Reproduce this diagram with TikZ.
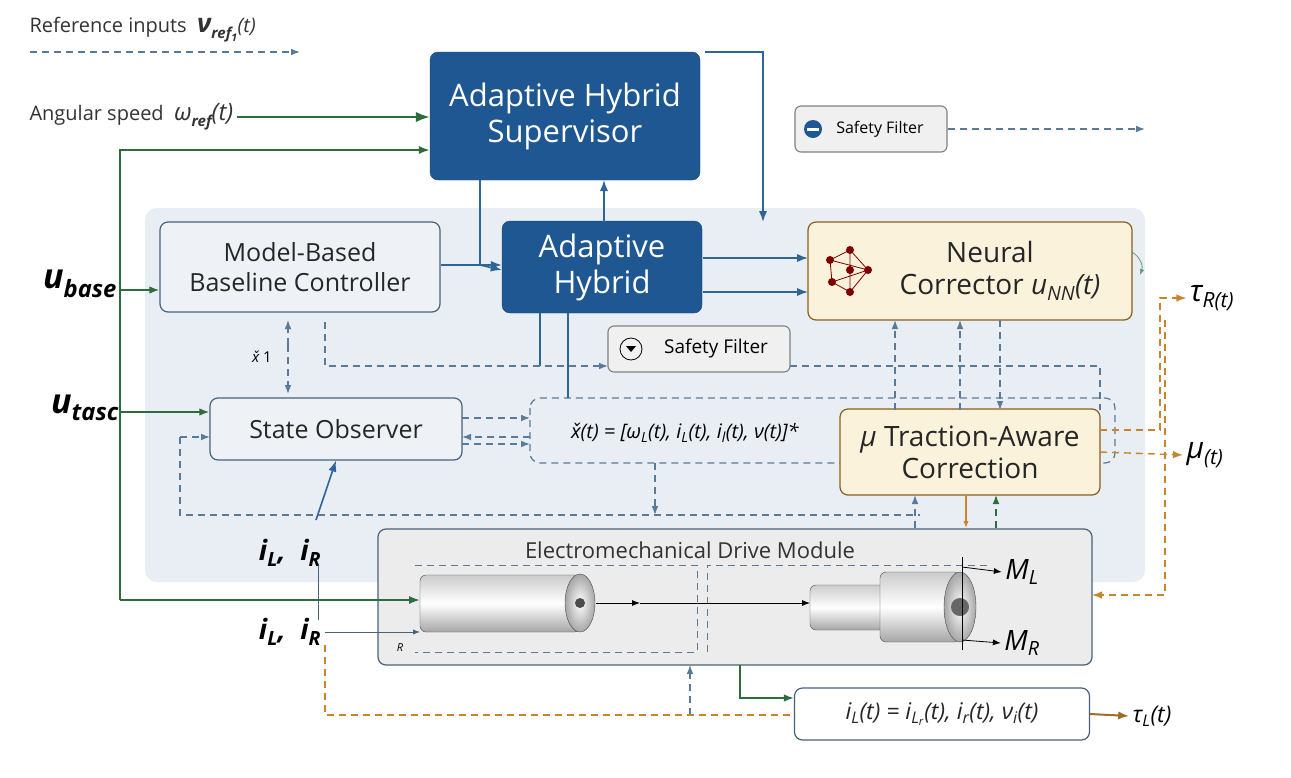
\documentclass[tikz,border=0pt]{standalone}
\usepackage{fontspec}
\setmainfont{Open Sans}
\usetikzlibrary{arrows.meta,calc}
\definecolor{dblue}{HTML}{1E5791}
\definecolor{lblue}{HTML}{2F6496}
\definecolor{gr}{HTML}{2E6B3E}
\definecolor{org}{HTML}{C8862A}
\definecolor{dsh}{HTML}{5A7A99}
\definecolor{cream}{HTML}{FBF2DC}
\definecolor{panel}{HTML}{E8EEF4}
\definecolor{boxf}{HTML}{EEF2F6}
\newcommand{\subsz}{\fontsize{15}{16}\selectfont}
\tikzset{
 dark/.style={draw=dblue!80!black,fill=dblue,rounded corners=8pt,text=white,align=center,font=\fontsize{31}{36}\selectfont},
 light/.style={draw=dsh!80!black,line width=1.2pt,fill=boxf,rounded corners=8pt,align=center,font=\fontsize{25}{30}\selectfont,text=black!85},
 warm/.style={draw=org!70!black,line width=1.2pt,fill=cream,rounded corners=8pt,align=center,font=\fontsize{28}{32}\selectfont,text=black!85},
 sf/.style={draw=gray,line width=1.1pt,fill=gray!12,rounded corners=6pt,font=\fontsize{16}{18}\selectfont},
 bl/.style={draw=lblue,line width=1.6pt,-{Latex[length=11pt]}},
 gl/.style={draw=gr,line width=2.4pt,-{Latex[length=14pt]}},
 dl/.style={draw=dsh,line width=1.2pt,dash pattern=on 7pt off 5pt,-{Latex[length=9pt]}},
 dn/.style={draw=dsh,line width=1.2pt,dash pattern=on 7pt off 5pt},
 ol/.style={draw=org,line width=1.4pt,dash pattern=on 7pt off 5pt,-{Latex[length=10pt]}},
 lab/.style={font=\fontsize{28}{30}\selectfont},
}
\begin{document}
\begin{tikzpicture}[x=1pt,y=-1pt]
\useasboundingbox (0,0) rectangle (1291,777);
\fill[white] (0,0) rectangle (1291,777);
\fill[panel,rounded corners=12pt] (145,208) rectangle (1145,582);
% top legend
\node[anchor=west,font=\fontsize{20}{22}\selectfont,text=black!80] (refin) at (26,30) {Reference inputs \ \textbf{\textit{\fontsize{26}{28}\selectfont ν\raisebox{-6pt}{\subsz ref\textsubscript{1}}}}\textit{(t)}};
\coordinate (rl0) at (30,52); \coordinate (rl1) at (300,52);
\draw[dl] (rl0) -- (rl1);
\node[anchor=west,font=\fontsize{20}{22}\selectfont,text=black!80] (angs) at (26,117) {Angular speed \ \textit{\fontsize{24}{26}\selectfont ω\raisebox{-6pt}{\textbf{\subsz ref}}(t)}};
% boxes
\node[dark,minimum width=270pt,minimum height=128pt] (sup) at (565,116) {Adaptive Hybrid\\Supervisor};
\node[sf,minimum width=152pt,minimum height=46pt] (sf1) at (871,129) {\hspace{18pt}Safety Filter};
\fill[dblue] (813,129) circle (9pt); \fill[white] (807,127.5) rectangle (819,130.5);
\node[light,minimum width=280pt,minimum height=90pt] (mb) at (300,267) {Model-Based\\Baseline Controller};
\node[dark,minimum width=200pt,minimum height=92pt] (ah) at (602,267) {Adaptive\\Hybrid};
\node[warm,minimum width=324pt,minimum height=98pt] (nc) at (970,271) {\hspace{40pt}Neural\\\hspace{60pt}Corrector \textit{u\textsubscript{NN}(t)}};
\node[sf,minimum width=182pt,minimum height=46pt,font=\fontsize{19}{21}\selectfont] (sf2) at (699,349) {\hspace{34pt}Safety Filter};
\draw[thick] (631,349) circle (11pt); \fill (631,352) -- (626,346) -- (636,346) -- cycle;
\node[light,minimum width=252pt,minimum height=62pt] (so) at (336,429) {State Observer};
\draw[dn,rounded corners=10pt] (530,398) rectangle (1115,463);
\node[font=\fontsize{20}{22}\selectfont] (seq) at (685,433) {\textit{x̌(t) = [ω\textsubscript{L}(t), i\textsubscript{L}(t), i\textsubscript{l}(t), ν(t)]*}};
\node[warm,minimum width=260pt,minimum height=86pt] (tac) at (970,452) {\textit{μ} Traction-Aware\\Correction};
\node[draw=dsh!80!black,line width=1.2pt,fill=gray!15,rounded corners=8pt,minimum width=714pt,minimum height=136pt] (dm) at (735,597) {};
\node[font=\fontsize{22}{24}\selectfont,text=black!80] (dmt) at (690,550) {Electromechanical Drive Module};
\node[light,minimum width=295pt,minimum height=52pt,fill=white,font=\fontsize{23}{25}\selectfont] (ieq) at (942,714) {\textit{i\textsubscript{L}(t) = i\textsubscript{L\textsubscript{r}}(t), i\textsubscript{r}(t), ν\textsubscript{i}(t)}};
% neural icon
\begin{scope}[draw=red!50!black,thick]
\draw (830,260) -- (850,250) -- (868,270) -- (850,292) -- (832,282) -- cycle;
\draw (850,250) -- (850,292) (830,260) -- (868,270) (832,282)--(868,270);
\foreach \p in {(830,260),(850,250),(868,270),(850,292),(832,282),(850,270)} \fill[red!50!black] \p circle (4pt);
\end{scope}
% motors
\shade[top color=gray!40,bottom color=gray!70,middle color=white,rounded corners=6pt,draw=black!70] (420,575) rectangle (580,632);
\shade[inner color=white,outer color=gray!70,draw=black!70] (580,603) ellipse (15pt and 29pt);
\fill[black!70] (580,603) circle (5pt);
\shade[top color=gray!40,bottom color=gray!70,middle color=white,rounded corners=6pt,draw=black!70] (810,585) rectangle (900,630);
\shade[top color=gray!40,bottom color=gray!70,middle color=white,rounded corners=6pt,draw=black!70] (880,572) rectangle (960,642);
\shade[inner color=white,outer color=gray!70,draw=black!70] (960,607) ellipse (16pt and 35pt);
\fill[black!60] (960,607) circle (9pt);
\draw[dn,line width=0.8pt] (415,565) -- (697,565) -- (697,652) -- (415,652);
\draw[dn,line width=0.8pt] (707,652) -- (707,565) -- (990,565);
\draw[thick,-{Latex[length=8pt]}] (596,603) -- (640,603);
\draw[thick,-{Latex[length=8pt]}] (640,603) -- (810,603);
\node[lab] (ml) at (1022,572) {\textit{M\textsubscript{L}}};
\node[lab] (mr) at (1022,643) {\textit{M\textsubscript{R}}};
\draw[thick,-{Latex[length=8pt]}] (962,567) -- (ml.west);
\draw[thick,-{Latex[length=8pt]}] (962,640) -- (mr.west);
\draw[thick] (962,557) -- (962,650);
\node[font=\fontsize{11}{12}\selectfont\itshape] (rr) at (400,648) {R};
% left labels
\node[font=\fontsize{34}{36}\selectfont] (ub) at (80,284) {\textbf{\textit{u\textsubscript{base}}}};
\node[font=\fontsize{34}{36}\selectfont] (ut) at (85,408) {\textbf{\textit{u\textsubscript{tasc}}}};
\node[lab] (i1) at (290,553) {\textbf{\textit{i\textsubscript{L}, \ i\textsubscript{R}}}};
\node[lab] (i2) at (290,632) {\textbf{\textit{i\textsubscript{L}, \ i\textsubscript{R}}}};
% outputs
\node[font=\fontsize{30}{32}\selectfont] (tr) at (1212,298) {\textit{τ\textsubscript{R(t)}}};
\node[font=\fontsize{30}{32}\selectfont] (mu) at (1205,455) {\textit{μ\textsubscript{(t)}}};
\node[font=\fontsize{23}{25}\selectfont] (tl) at (1152,716) {\textit{τ\textsubscript{L}(t)}};
% green links
\coordinate (g0) at (120,150); \coordinate (g1) at (120,600);
\draw[gl] (angs.east) -- (sup.west |- angs.east);
\draw[gr,line width=2pt,-{Latex[length=11pt]}] (g1) -- (g0) -- (sup.west |- g0);
\draw[gr,line width=1.6pt,-{Latex[length=10pt]}] (120,290) -- (mb.west |- 0,290);
\draw[gr,line width=1.6pt,-{Latex[length=10pt]}] (120,412) -- (so.west |- 0,412);
\draw[gr,line width=2pt,-{Latex[length=11pt]}] (g1) -- (420,600);
\draw[gr,line width=1.6pt,-{Latex[length=10pt]}] (740,665) -- (740,698) -- (ieq.west |- 0,698);
\draw[gr,line width=1.2pt,dash pattern=on 7pt off 5pt,-{Latex[length=9pt]}] (996,528) -- (996,495);
% blue solid links
\draw[bl] (mb.east |- 0,265) -- (ah.west |- 0,265);
\draw[bl] (480,180) -- (480,265) -- (ah.west |- 0,270);
\draw[bl] (604,222) -- (604,180);
\draw[bl] (705,52) -- (763,52) -- (763,222);
\draw[bl] (703,258) -- (808,258);
\draw[bl] (703,292) -- (808,292);
\draw[bl] (316,520) -- (so.south);
\draw[lblue,line width=1.4pt] (540,313) -- (540,366);
\draw[lblue,line width=1.4pt] (568,313) -- (568,398);
\draw[dsh!80!black,thick,-{Latex[length=7pt]}] (i2.east) -- (420,632);
\draw[dsh!80!black,thick] (318,565) -- (318,620);
% dashed connections
\draw[dl] (948,129) -- (1145,129);
\draw[dl] (325,322) -- (325,366) -- (608,366);
\draw[dl] (288,345) -- (288,320);
\draw[dl] (288,345) -- (288,394);
\node[font=\fontsize{15}{16}\selectfont] (x1) at (262,357) {\textit{x̌}1};
\draw[dn] (790,366) -- (1100,366) -- (1100,410);
\draw[dl] (462,418) -- (530,418);
\draw[dl] (530,437) -- (462,437);
\draw[dl] (462,444) -- (530,444);
\draw[dl] (180,437) -- (210,437);
\draw[dn] (180,437) -- (180,515) -- (920,515);
\draw[dl] (655,463) -- (655,515);
\draw[dl] (895,410) -- (895,320);
\draw[dl] (960,410) -- (960,320);
\draw[dl] (1000,320) -- (1000,410);
\draw[dl] (915,528) -- (915,495);
\draw[dl] (690,715) -- (690,665);
\draw[org,line width=1.2pt,-{Latex[length=7pt]}] (966,495) -- (966,528);
\draw[ol] (1100,452) -- (mu.west);
\draw[ol] (1100,430) -- (1160,430) -- (1160,298) -- (tr.west);
\draw[ol] (1165,320) -- (1165,595) -- (1092,595);
\draw[org,line width=1.2pt,dash pattern=on 7pt off 5pt] (325,645) -- (325,715) -- (795,715);
\draw[org!80!black,line width=2pt,-{Latex[length=11pt]}] (ieq.east) -- (tl.west);
\draw[draw=gr!70,thick,-{Latex[length=6pt]}] (1132,252) to[bend left=40] (1140,275);
\end{tikzpicture}
\end{document}
